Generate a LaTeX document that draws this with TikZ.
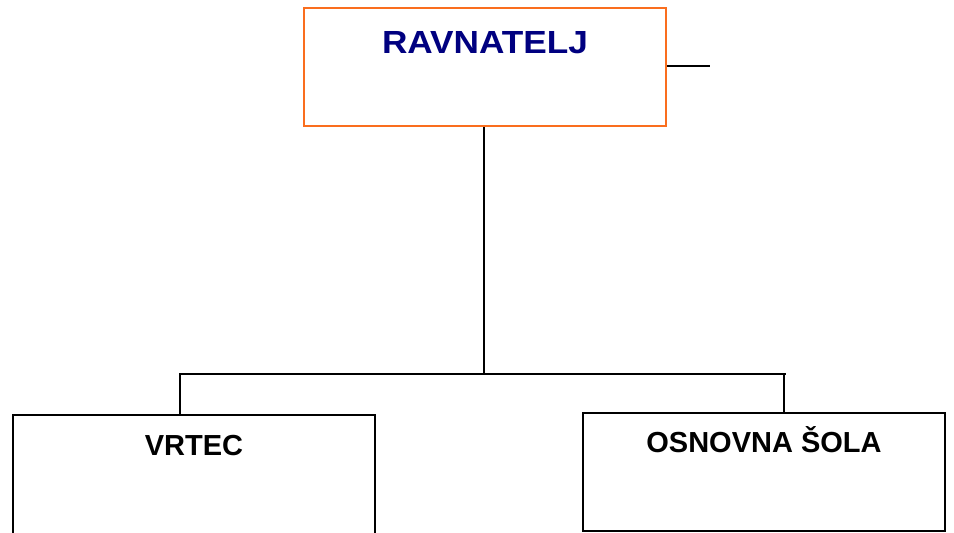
\documentclass[tikz,border=0pt]{standalone}
\usepackage{fontspec}
\setmainfont{Liberation Sans}
\usepackage{graphicx}
\definecolor{boxorange}{RGB}{250,110,30}
\definecolor{navytext}{RGB}{0,0,128}
\begin{document}
\begin{tikzpicture}[x=1pt,y=-1pt,
  orgbox/.style={draw,line width=1.8pt,inner sep=0pt},
  conn/.style={draw,black,line width=1.6pt},
  lbl/.style={anchor=base,inner sep=0pt,font=\bfseries\fontsize{29}{34}\selectfont}]
\useasboundingbox (0,0) rectangle (954,533);
\clip (0,0) rectangle (954,533);
\fill[white] (0,0) rectangle (954,533);
\node[orgbox,draw=boxorange,minimum width=362pt,minimum height=118pt] (rav) at (485,67) {};
\node[orgbox,minimum width=362pt,minimum height=130pt] (vrtec) at (194,480) {};
\node[orgbox,minimum width=362pt,minimum height=118pt] (os) at (764,472) {};
\node[lbl,text=navytext,font=\bfseries\fontsize{32}{36}\selectfont] (ravt) at (485,53) {\scalebox{1.1}[1]{RAVNATELJ}};
\node[lbl] (vrtect) at (194,455) {VRTEC};
\node[lbl] (ost) at (764,452) {OSNOVNA ŠOLA};
\coordinate (side) at (710,66);
\coordinate (j) at (484,374);
\coordinate (jl) at (179,374);
\coordinate (jr) at (786,374);
\coordinate (dl) at (180,374);
\coordinate (dr) at (784,374);
\draw[conn] (rav.east |- side) -- (side);
\draw[conn] (rav.south -| j) -- (j);
\draw[conn] (jl) -- (jr);
\draw[conn] (dl) -- (dl |- vrtec.north);
\draw[conn] (dr) -- (dr |- os.north);
\end{tikzpicture}
\end{document}
